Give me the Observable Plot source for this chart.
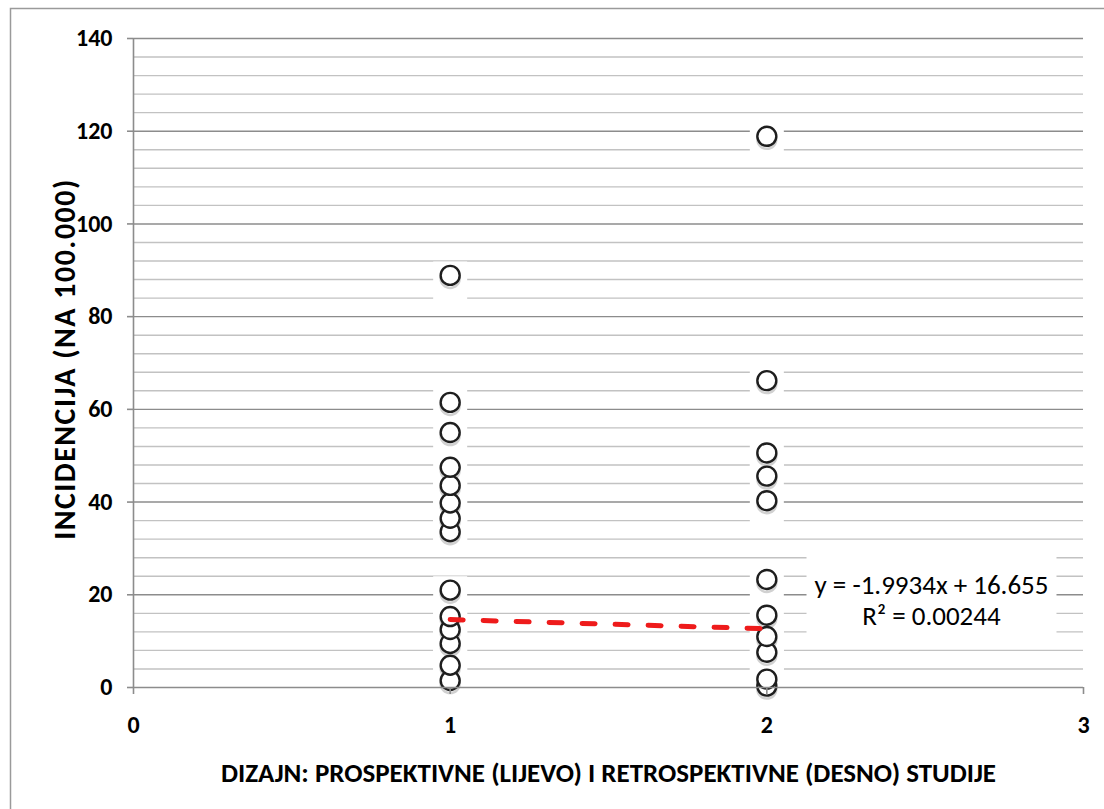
<!DOCTYPE html>
<html>
<head>
<meta charset="utf-8">
<script src="https://cdn.jsdelivr.net/npm/d3@7"></script>
<script src="https://cdn.jsdelivr.net/npm/@observablehq/plot@0.6"></script>
<style>
  html, body { margin: 0; padding: 0; background: #ffffff; }
  #chart { position: absolute; left: 0; top: 0; }
</style>
</head>
<body>
<div id="chart"></div>
<script>
// ---- data ----
const prospective = [88.9, 61.5, 55.0, 47.5, 43.6, 39.8, 36.5, 33.6, 21.0, 15.3, 12.5, 9.5, 4.8, 1.5];   // x = 1
const retrospective = [118.9, 66.2, 50.6, 45.6, 40.3, 23.3, 15.6, 11.0, 7.6, 1.8, 0.3];              // x = 2
const trendX = [1, 2];
const trendY = [14.66, 12.67];
const xTicks = [0, 1, 2, 3];
const yTicks = [0, 20, 40, 60, 80, 100, 120, 140];
const yMinor = [4, 8, 12, 16, 24, 28, 32, 36, 44, 48, 52, 56, 64, 68, 72, 76, 84, 88, 92, 96, 104, 108, 112, 116, 124, 128, 132, 136];
const equationText = "y = -1.9934x + 16.655\nR² = 0.00244";
const yTitle = "INCIDENCIJA (NA 100.000)";
const xTitle = "DIZAJN: PROSPEKTIVNE (LIJEVO) I RETROSPEKTIVNE (DESNO) STUDIJE";

// ---- tables built from the arrays ----
const points = [
  ...prospective.map(v => ({x: 1, y: v})),
  ...retrospective.map(v => ({x: 2, y: v}))
].sort((a, b) => a.y - b.y);
const trend = trendX.map((x, i) => ({x, y: trendY[i]}));

const FONT = "Carlito, Calibri, Lato, 'Liberation Sans', sans-serif";

// white halo box drawn behind each marker (hides the grid lines there)
const haloSymbol = {
  draw(ctx) {
    ctx.moveTo(-17, -14); ctx.lineTo(17, -14); ctx.lineTo(17, 24); ctx.lineTo(-17, 24); ctx.closePath();
  }
};

const chart = Plot.plot({
  width: 1104,
  height: 809,
  marginLeft: 133,
  marginRight: 21,
  marginTop: 38,
  marginBottom: 122,
  style: {fontFamily: FONT, background: "#ffffff", color: "#000"},
  x: {domain: [0, 3]},
  y: {domain: [0, 140]},
  marks: [
    Plot.ruleY(yMinor, {stroke: "#c2c2c2", strokeWidth: 1.4}),
    Plot.ruleY(yTicks.slice(1), {stroke: "#8c8c8c", strokeWidth: 1.4}),
    Plot.dot(points, {x: "x", y: "y", r: 10, symbol: haloSymbol, fill: "#ffffff", stroke: "none"}),
    Plot.dot(points, {x: "x", y: "y", r: 9.5, dy: 3, fill: "none", stroke: "#9a9a9a", strokeOpacity: 0.45, strokeWidth: 2.5}),
    Plot.dot(points, {x: "x", y: "y", r: 9.5, fill: "#ffffff", stroke: "#1e1e1e", strokeWidth: 2.4}),
    Plot.ruleX([0], {y1: 0, y2: 140, stroke: "#8c8c8c", strokeWidth: 1.6}),
    Plot.ruleY([0], {x1: 0, x2: 3, stroke: "#8c8c8c", strokeWidth: 1.6}),
    Plot.axisY({ticks: yTicks, tickSize: 6, tickPadding: 15, label: null, stroke: "#8c8c8c", strokeWidth: 1.6,
                fill: "#000", fontSize: 24, fontWeight: "bold", tickFormat: d => String(d)}),
    Plot.axisX({ticks: xTicks, tickSize: 7, tickPadding: 21, label: null, stroke: "#8c8c8c", strokeWidth: 1.6,
                fill: "#000", fontSize: 24, fontWeight: "bold", tickFormat: d => String(d)}),
    Plot.line(trend, {x: "x", y: "y", stroke: "#ee1b1b", strokeWidth: 5, strokeDasharray: "13,20", strokeLinecap: "round"}),
    Plot.text([yTitle], {frameAnchor: "left", dx: -68, rotate: -90, textAnchor: "middle", lineAnchor: "middle",
                         fontSize: 30, fontWeight: "bold", fill: "#000", dy: -4}),
    Plot.text([xTitle], {frameAnchor: "bottom", dy: 86, textAnchor: "middle", lineAnchor: "middle",
                         fontSize: 27, fontWeight: "bold", fill: "#000"}),
    Plot.text([equationText], {x: () => 2.52, y: () => 19, fontSize: 27, lineHeight: 1.15, fill: "#000",
                               textAnchor: "middle", lineAnchor: "middle"})
  ]
});

document.getElementById("chart").appendChild(chart);

const svg = d3.select(chart);
// slightly letter-spaced vertical title, as in the reference
svg.selectAll("text").filter(function() { return this.textContent === yTitle; })
  .style("letter-spacing", "1.5px");
// white box behind the regression equation (same transform as its text)
svg.selectAll("text").filter(function() { return this.textContent.includes("16.655"); }).each(function() {
  const b = this.getBBox();
  const g = this.parentNode;
  const t = this.getAttribute("transform");
  const r = d3.select(g).insert("rect", () => g.firstChild)
    .attr("x", b.x - 8).attr("y", b.y - 18).attr("width", b.width + 16).attr("height", b.height + 30)
    .attr("fill", "#ffffff");
  if (t) r.attr("transform", t);
});
// outer chart frame
svg.append("path").attr("d", "M10.5,809V8.5H1104").attr("fill", "none").attr("stroke", "#9a9a9a").attr("stroke-width", 1.5);
</script>
</body>
</html>
